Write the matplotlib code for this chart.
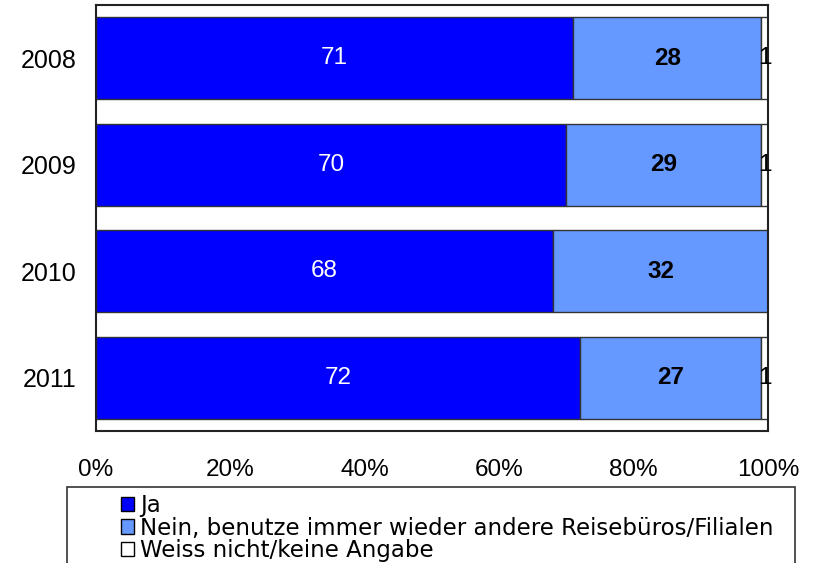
import matplotlib
matplotlib.use("Agg")
import matplotlib.pyplot as plt
from matplotlib.patches import Rectangle, Patch

plt.rcParams['font.family'] = ['Liberation Sans', 'DejaVu Sans']

years = ["2008", "2009", "2010", "2011"]
ja = [71, 70, 68, 72]
nein = [28, 29, 32, 27]
weiss = [1, 1, 0, 1]
series_labels = ["Ja", "Nein, benutze immer wieder andere Reisebüros/Filialen",
                 "Weiss nicht/keine Angabe"]
colors = ["#0000FF", "#6699FF", "#FFFFFF"]
xticks = [0, 20, 40, 60, 80, 100]
xtick_labels = ["0%", "20%", "40%", "60%", "80%", "100%"]

fig = plt.figure(figsize=(8.15, 5.63), dpi=100)
ax = fig.add_axes([96/815, 1-431/563, 672/815, 426/563])

ypos = list(range(len(years)))
h = 0.77
edge = "#333333"
ax.barh(ypos, ja, height=h, color=colors[0], edgecolor=edge, linewidth=1)
ax.barh(ypos, nein, left=ja, height=h, color=colors[1], edgecolor=edge, linewidth=1)
left3 = [a + b for a, b in zip(ja, nein)]
for i, w in enumerate(weiss):
    if w > 0:
        ax.barh(ypos[i], w, left=left3[i], height=h, color=colors[2], edgecolor=edge, linewidth=1)

fs = 17.5
for i in ypos:
    ax.text(ja[i] / 2, i, str(ja[i]), color="white", ha="center", va="center", fontsize=fs)
    ax.text(ja[i] + nein[i] / 2, i, str(nein[i]), color="black", ha="center", va="center",
            fontsize=fs, fontweight="bold")
    if weiss[i] > 0:
        ax.text(left3[i] + weiss[i] / 2, i, str(weiss[i]), color="black", ha="center",
                va="center", fontsize=fs)

ax.set_xlim(0, 100)
ax.set_ylim(3.5, -0.5)
ax.set_yticks(ypos)
ax.set_yticklabels(years, fontsize=18)
ax.set_xticks(xticks)
ax.set_xticklabels(xtick_labels, fontsize=fs)
ax.tick_params(axis="x", length=0, pad=20)
ax.tick_params(axis="y", length=0, pad=14)
for s in ax.spines.values():
    s.set_color("#222222")
    s.set_linewidth(1.5)

# legend box
fig.patches.append(Rectangle((67/815, -0.05), (795-67)/815, 0.05 + 1-487/563,
                             transform=fig.transFigure, facecolor="white",
                             edgecolor="#333333", linewidth=1.2))
handles = [Patch(facecolor=c, edgecolor="black", linewidth=1) for c in colors]
leg = fig.legend(handles, series_labels, loc="upper left",
                 bbox_to_anchor=(121/815, 1-494/563), frameon=False,
                 prop={"family": "DejaVu Sans", "size": 16.5},
                 labelspacing=-0.02, handlelength=0.58, handleheight=0.58,
                 handletextpad=0.25, borderpad=0, borderaxespad=0)

fig.savefig("out.png", dpi=100)
